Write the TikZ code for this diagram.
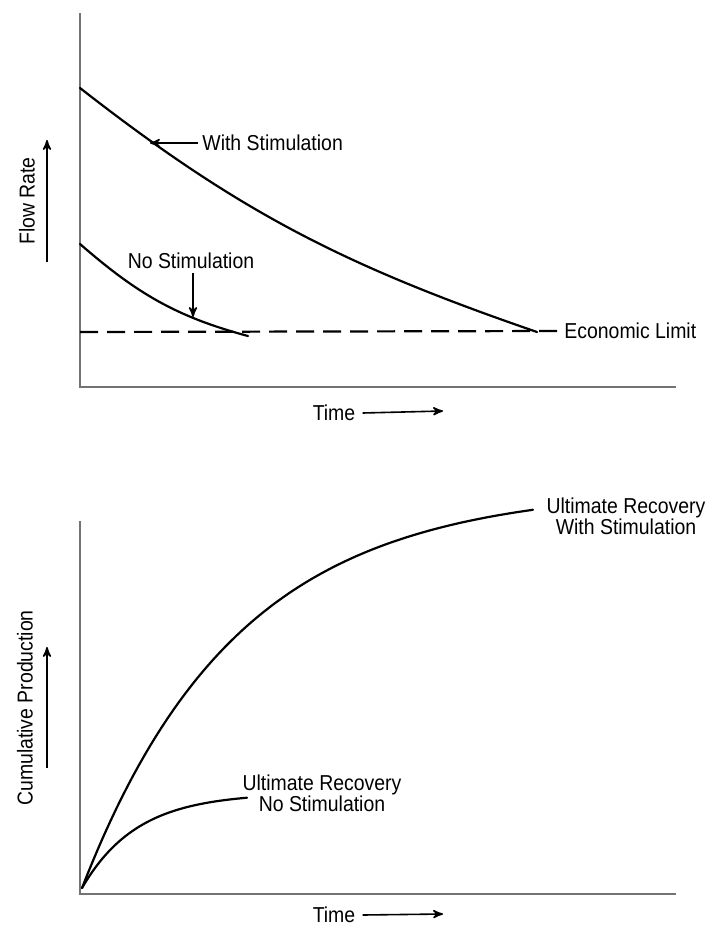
\documentclass[tikz,border=0pt]{standalone}
\usepackage{fontspec}
\setmainfont[FakeStretch=0.9]{Liberation Sans}
\usetikzlibrary{arrows}

\tikzset{
  axis/.style={draw=black!55,line width=0.7pt},
  curve/.style={line width=1.1pt,line cap=round},
  txt/.style={inner sep=2pt,font=\fontsize{10.8}{10.3}\selectfont},
  pointer/.style={->,line width=0.8pt}
}

\begin{document}
\begin{tikzpicture}[>=stealth',x=0.5pt,y=-0.5pt]
    \useasboundingbox (0,0) rectangle (708,926);

    % flow rate vs time
    \coordinate (Y1) at (80,13);
    \coordinate (O1) at (80,387);
    \coordinate (X1) at (676,387);
    \draw[axis] (Y1) -- (O1) -- (X1);

    \node[txt,rotate=90] (flowrate) at (27,201) {Flow Rate};
    \coordinate (fr0) at (47,262);
    \coordinate (fr1) at (47,140);
    \draw[pointer] (fr0) -- (fr1);

    \coordinate (ws0) at (80,88);
    \coordinate (ws1) at (537,332);
    \coordinate (ns0) at (80,244);
    \coordinate (ns1) at (248,336);
    \draw[curve] (ws0) to[out=-38,in=161] (ws1);
    \draw[curve] (ns0) to[out=-41,in=165] (ns1);

    \node[txt,anchor=west] (econ) at (560,331) {Economic Limit};
    \coordinate (ecl) at (80,332);
    \draw[line width=1.1pt,dash pattern=on 9pt off 4.5pt] (ecl) -- (econ.west);

    \node[txt,anchor=west] (withstim) at (198,143) {With Stimulation};
    \coordinate (wstip) at (150,143);
    \draw[pointer] (withstim.west) -- (wstip);

    \node[txt] (nostim) at (191,261) {No Stimulation};
    \coordinate (nstip) at (193,317);
    \draw[pointer] (nostim.south -| nstip) -- (nstip);

    \node[txt] (time1) at (334,413) {Time};
    \coordinate (t1) at (443,411);
    \draw[pointer] (time1.east) ++(3,0) -- (t1);

    % cumulative production vs time
    \coordinate (Y2) at (80,521);
    \coordinate (O2) at (80,894);
    \coordinate (X2) at (676,894);
    \draw[axis] (Y2) -- (O2) -- (X2);

    \node[txt,rotate=90] (cumprod) at (25,708) {Cumulative Production};
    \coordinate (cp0) at (47,768);
    \coordinate (cp1) at (47,647);
    \draw[pointer] (cp0) -- (cp1);

    \draw[curve] plot[domain=0:451,samples=80] ({82+\x},{888-400*(1-exp(-\x/155))});
    \draw[curve] plot[domain=0:165,samples=50] ({82+\x},{888-95*(1-exp(-\x/55))});

    \node[txt,align=center] (urws) at (626,516) {Ultimate Recovery\\With Stimulation};
    \node[txt,align=center] (urns) at (322,793) {Ultimate Recovery\\No Stimulation};

    \node[txt] (time2) at (334,915) {Time};
    \coordinate (t2) at (443,914);
    \draw[pointer] (time2.east) ++(3,0) -- (t2);

\end{tikzpicture}
\end{document}
